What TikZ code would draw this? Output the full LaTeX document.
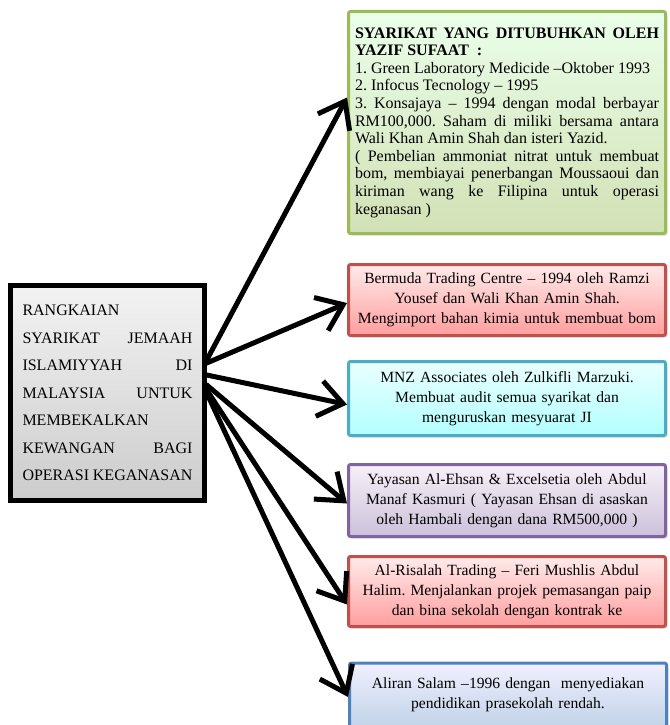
\documentclass[tikz,border=0pt]{standalone}
\usepackage{fontspec}
\setmainfont{Liberation Serif}
\usepackage{tikz}
\usetikzlibrary{arrows.meta, shadows, calc}
\frenchspacing
\definecolor{olivegreen}{HTML}{9BBB59}
\definecolor{brickred}{HTML}{C0504D}
\definecolor{aquablue}{HTML}{4BACC6}
\definecolor{lavender}{HTML}{8064A2}
\definecolor{steelblue}{HTML}{4F81BD}
\tikzstyle{hub} = [rectangle, minimum width=194pt, minimum height=215pt, text width=170pt, align=justify, draw=black, line width=4.5pt, top color=gray!10, bottom color=gray!40, drop shadow={opacity=0.3, shadow xshift=2pt, shadow yshift=-2pt}, font=\fontsize{16}{27.5}\selectfont]
\tikzstyle{company} = [rectangle, rounded corners=2pt, minimum width=317pt, text width=304pt, align=center, line width=3pt, drop shadow={opacity=0.25, shadow xshift=2pt, shadow yshift=-2pt}, font=\fontsize{15.6}{20}\selectfont]
\tikzstyle{greenbox} = [company, draw=olivegreen, top color=green!8!white, bottom color=olivegreen!45!white, align=justify, font=\fontsize{16}{17.6}\selectfont]
\tikzstyle{redbox} = [company, draw=brickred, top color=red!8!white, bottom color=red!38!white]
\tikzstyle{cyanbox} = [company, draw=aquablue, top color=cyan!8!white, bottom color=cyan!30!white]
\tikzstyle{purplebox} = [company, draw=lavender, top color=violet!6!white, bottom color=lavender!40!white]
\tikzstyle{bluebox} = [company, draw=steelblue, top color=blue!6!white, bottom color=steelblue!35!white]
\tikzstyle{arrow} = [line width=5pt, line cap=round, -{Straight Barb[length=24pt, width=36pt]}]

\begin{document}
\begin{tikzpicture}[x=1pt, y=-1pt]
\useasboundingbox (0,0) rectangle (669,725);

% Nodes
\node (jemaah) [hub] at (107.5,393) {RANGKAIAN\\ SYARIKAT JEMAAH\linebreak ISLAMIYYAH DI\linebreak MALAYSIA UNTUK\linebreak MEMBEKALKAN\\ KEWANGAN BAGI\linebreak OPERASI KEGANASAN};
\node (sufaat) [greenbox, minimum height=222pt] at (507,122.5) {\textbf{SYARIKAT YANG DITUBUHKAN OLEH\linebreak YAZIF SUFAAT~~:}\\ 1. Green Laboratory Medicide --Oktober 1993\\ 2. Infocus Tecnology -- 1995\\ 3. Konsajaya -- 1994 dengan modal berbayar\linebreak RM100,000. Saham di miliki bersama antara\linebreak Wali Khan Amin Shah dan isteri Yazid.\\ ( Pembelian ammoniat nitrat untuk membuat\linebreak bom, membiayai penerbangan Moussaoui dan\linebreak kiriman wang ke Filipina untuk operasi\linebreak keganasan )};
\node (bermuda) [redbox, minimum height=71pt] at (507,300) {Bermuda Trading Centre -- 1994 oleh Ramzi\\ Yousef dan Wali Khan Amin Shah.\\ Mengimport bahan kimia untuk membuat bom};
\node (mnz) [cyanbox, minimum height=74pt] at (507,398.5) {MNZ Associates oleh Zulkifli Marzuki.\\ Membuat audit semua syarikat dan\\ menguruskan mesyuarat JI};
\node (yayasan) [purplebox, minimum height=72pt] at (507,500.5) {Yayasan Al-Ehsan \& Excelsetia oleh Abdul\\ Manaf Kasmuri ( Yayasan Ehsan di asaskan\\ oleh Hambali dengan dana RM500,000 )};
\node (risalah) [redbox, minimum height=70pt] at (507,591.5) {Al-Risalah Trading -- Feri Mushlis Abdul\\ Halim. Menjalankan projek pemasangan paip\\ dan bina sekolah dengan kontrak ke};
\node (aliran) [bluebox, minimum height=64pt] at (508,695) {Aliran Salam --1996 dengan~ menyediakan\\ pendidikan prasekolah rendah.};

% Arrows
\draw [arrow] ([yshift=33pt]jemaah.east) -- ([yshift=25pt]sufaat.west);
\draw [arrow] ([yshift=30pt]jemaah.east) -- ([yshift=-3pt]bermuda.west);
\draw [arrow] ([yshift=18pt]jemaah.east) -- ([yshift=-6pt]mnz.west);
\draw [arrow] ([yshift=8pt]jemaah.east) -- ([yshift=-3pt]yayasan.west);
\draw [arrow] ([yshift=3pt]jemaah.east) -- ([yshift=-13pt]risalah.west);
\draw [arrow] ([yshift=0pt]jemaah.east) -- ([yshift=-2pt]aliran.west);

\end{tikzpicture}
\end{document}
